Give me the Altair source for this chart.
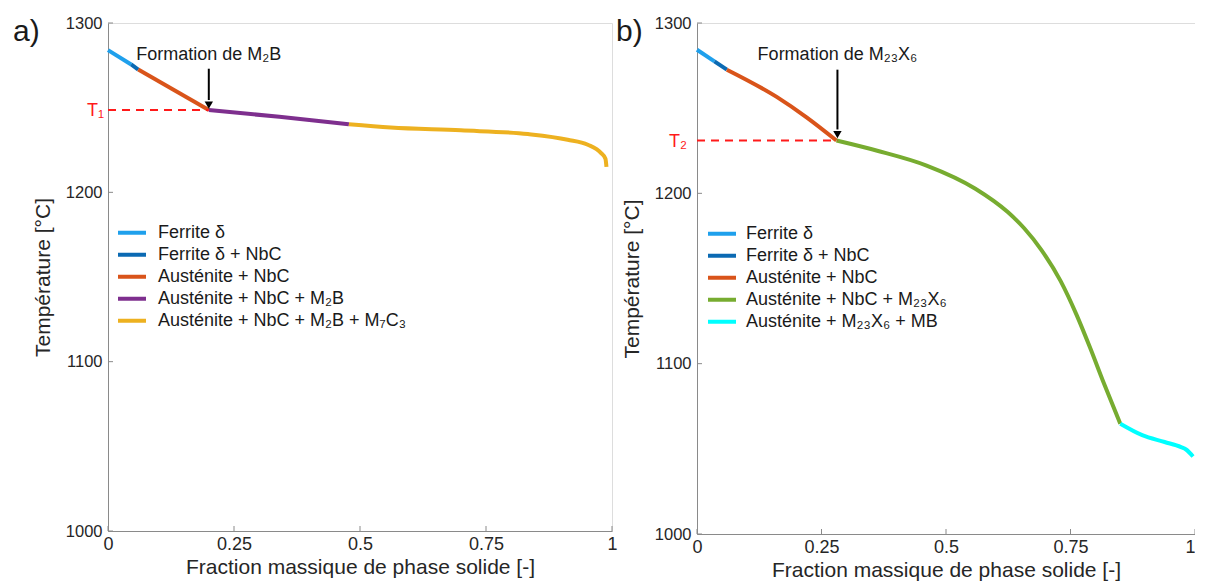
import altair as alt
import pandas as pd

FONT = "Liberation Sans"

# ---------------- Panel a) data ----------------
a_phases = ["Ferrite δ", "Ferrite δ + NbC", "Austénite + NbC",
            "Austénite + NbC + M₂B", "Austénite + NbC + M₂B + M₇C₃"]
a_colors = ["#1FA0EC", "#0B6AB3", "#D9541A", "#7E2F8E", "#EDB120"]

a_f_ferrite = [0.0, 0.046]
a_T_ferrite = [1284.0, 1275.5]
a_f_ferrite_nbc = [0.046, 0.06]
a_T_ferrite_nbc = [1275.5, 1272.5]
a_f_aus_nbc = [0.06, 0.20]
a_T_aus_nbc = [1272.5, 1248.6]
a_f_m2b = [0.20, 0.34, 0.478]
a_T_m2b = [1248.6, 1244.6, 1240.2]
a_f_m7c3 = [0.478, 0.561, 0.700, 0.833, 0.912, 0.952, 0.978, 0.987, 0.989]
a_T_m7c3 = [1240.2, 1238.3, 1236.6, 1234.4, 1231.1, 1228.1, 1223.3, 1219.8, 1215.0]

a_T1 = 1248.6
a_arrow_f = 0.20
a_arrow_T = [1273.0, 1254.5]
a_arrow_tip = 1251.5
a_note_T = 1281.0

# ---------------- Panel b) data ----------------
b_phases = ["Ferrite δ", "Ferrite δ + NbC", "Austénite + NbC",
            "Austénite + NbC + M₂₃X₆", "Austénite + M₂₃X₆ + MB"]
b_colors = ["#1FA0EC", "#0B6AB3", "#D9541A", "#77AC30", "#00FFFF"]

b_f_ferrite = [0.0, 0.035]
b_T_ferrite = [1284.3, 1277.5]
b_f_ferrite_nbc = [0.035, 0.06]
b_T_ferrite_nbc = [1277.5, 1272.6]
b_f_aus_nbc = [0.06, 0.16, 0.22, 0.28]
b_T_aus_nbc = [1272.6, 1256.6, 1244.6, 1231.0]
b_f_m23 = [0.28, 0.362, 0.461, 0.559, 0.624, 0.657, 0.691, 0.730, 0.762, 0.789, 0.815, 0.850]
b_T_m23 = [1231.0, 1225.0, 1216.3, 1202.7, 1189.0, 1179.5, 1167.0, 1148.6, 1128.8, 1109.6, 1090.0, 1064.7]
b_f_mb = [0.850, 0.894, 0.939, 0.972, 0.982, 0.996]
b_T_mb = [1064.7, 1058.0, 1054.0, 1051.0, 1049.6, 1045.5]

b_T2 = 1231.0
b_arrow_f = 0.282
b_arrow_T = [1272.6, 1237.5]
b_arrow_tip = 1234.5
b_note_T = 1281.5

x_ticks = [0, 0.25, 0.5, 0.75, 1]
y_ticks = [1000, 1100, 1200, 1300]

AX_COLOR = "#8a8a8a"
TXT = "#262626"


def seg_df(phases, segs):
    rows = []
    for ph, (fs, ts) in zip(phases, segs):
        for f, t in zip(fs, ts):
            rows.append({"phase": ph, "f": f, "T": t})
    return pd.DataFrame(rows)


def panel(label, phases, colors, segs, Tline, tlabel, tdx, arrow_f, arrow_T, arrow_tip,
          note_T, note, W, H, legX, legY, legOff, lab_x, last_align):
    xs = alt.Scale(domain=[0, 1], nice=False, zero=False)
    ys = alt.Scale(domain=[1000, 1300], nice=False, zero=False)
    xax = alt.Axis(values=x_ticks, labelExpr="toString(datum.value)", ticks=False, grid=False,
                   title="Fraction massique de phase solide [-]", titleFontSize=21,
                   titleFont=FONT, titleFontWeight="normal", titleColor=TXT, titlePadding=3,
                   labelFontSize=18, labelFont=FONT, labelColor=TXT, labelPadding=4,
                   domainColor=AX_COLOR, labelFlush=False,
                   labelAlign={"condition": {"test": "datum.value == 1", "value": last_align},
                               "value": "center"})
    yax = alt.Axis(values=y_ticks, labelExpr="toString(datum.value)", ticks=False, grid=False,
                   title="Température [°C]",
                   titleFontSize=21, titleFont=FONT, titleFontWeight="normal", titleColor=TXT,
                   titlePadding=12, labelFontSize=16.5, labelFont=FONT, labelColor=TXT,
                   labelPadding=6, domainColor=AX_COLOR, labelFlush=False)

    df = seg_df(phases, segs)
    lines = alt.Chart(df).mark_line(strokeWidth=4, interpolate="monotone", strokeCap="butt").encode(
        x=alt.X("f:Q", scale=xs, axis=xax),
        y=alt.Y("T:Q", scale=ys, axis=yax),
        color=alt.Color("phase:N", scale=alt.Scale(domain=phases, range=colors),
                        legend=alt.Legend(title=None, orient="none", legendX=legX, legendY=legY,
                                          symbolType="stroke", symbolStrokeWidth=4, symbolSize=784,
                                          labelFontSize=18, labelFont=FONT, labelColor="#1a1a1a",
                                          clipHeight=21.7, rowPadding=0, labelOffset=legOff,
                                          padding=0, labelLimit=500)),
        detail="phase:N",
        order="f:Q",
    )

    dash_df = pd.DataFrame({"f": [0, arrow_f], "T": [Tline, Tline]})
    dash = alt.Chart(dash_df).mark_line(color="#FF1A1A", strokeWidth=2, strokeDash=[8, 6]).encode(
        x=alt.X("f:Q", scale=xs), y=alt.Y("T:Q", scale=ys))

    tl_df = pd.DataFrame({"f": [0], "T": [Tline], "t": [tlabel]})
    tl = alt.Chart(tl_df).mark_text(align="right", baseline="middle", dx=tdx, dy=1, fontSize=18,
                                    font=FONT, color="#FF1A1A").encode(
        x=alt.X("f:Q", scale=xs), y=alt.Y("T:Q", scale=ys), text="t:N")

    ar_df = pd.DataFrame({"f": [arrow_f], "T1": [arrow_T[0]], "T2": [arrow_T[1]]})
    arrow = alt.Chart(ar_df).mark_rule(color="black", strokeWidth=2).encode(
        x=alt.X("f:Q", scale=xs), y=alt.Y("T1:Q", scale=ys), y2="T2:Q")
    tip_df = pd.DataFrame({"f": [arrow_f], "T": [arrow_tip]})
    tip = alt.Chart(tip_df).mark_point(shape="triangle-down", filled=True, color="black",
                                       size=70, opacity=1).encode(
        x=alt.X("f:Q", scale=xs), y=alt.Y("T:Q", scale=ys))

    nt_df = pd.DataFrame({"f": [arrow_f], "T": [note_T], "t": [note]})
    nt = alt.Chart(nt_df).mark_text(align="center", baseline="middle", fontSize=18, font=FONT,
                                    color="#1a1a1a").encode(
        x=alt.X("f:Q", scale=xs), y=alt.Y("T:Q", scale=ys), text="t:N")

    xt_df = pd.DataFrame({"v": x_ticks})
    xt = alt.Chart(xt_df).mark_rule(color=AX_COLOR, strokeWidth=1).encode(
        x=alt.X("v:Q", scale=xs), y=alt.value(H), y2=alt.value(H - 5))
    yt_df = pd.DataFrame({"v": y_ticks})
    yt = alt.Chart(yt_df).mark_rule(color=AX_COLOR, strokeWidth=1).encode(
        y=alt.Y("v:Q", scale=ys), x=alt.value(0), x2=alt.value(5))

    pl_df = pd.DataFrame({"t": [label]})
    pl = alt.Chart(pl_df).mark_text(align="left", baseline="alphabetic", fontSize=30, font=FONT,
                                    color="#1a1a1a").encode(
        text="t:N", x=alt.value(lab_x), y=alt.value(18))

    return alt.layer(lines, dash, tl, arrow, tip, nt, xt, yt, pl).properties(width=W, height=H)


left = panel("a)", a_phases, a_colors,
             [(a_f_ferrite, a_T_ferrite), (a_f_ferrite_nbc, a_T_ferrite_nbc),
              (a_f_aus_nbc, a_T_aus_nbc), (a_f_m2b, a_T_m2b), (a_f_m7c3, a_T_m7c3)],
             a_T1, "T₁", -4, a_arrow_f, a_arrow_T, a_arrow_tip, a_note_T, "Formation de M₂B",
             504, 508, 8, 199, 10, -95, "center")

right = panel("b)", b_phases, b_colors,
              [(b_f_ferrite, b_T_ferrite), (b_f_ferrite_nbc, b_T_ferrite_nbc),
               (b_f_aus_nbc, b_T_aus_nbc), (b_f_m23, b_T_m23), (b_f_mb, b_T_mb)],
              b_T2, "T₂", -10, b_arrow_f, b_arrow_T, b_arrow_tip, b_note_T, "Formation de M₂₃X₆",
              498, 511, 9, 200, 8, -81, "right")

chart = alt.hconcat(left, right, spacing=85, bounds="flush").resolve_scale(
    color="independent").properties(
    padding={"left": 4, "top": 6, "right": -7, "bottom": 0}
).configure_view(stroke=None).configure(font=FONT)

chart.save("out.html", embed_options={"renderer": "svg", "actions": False})
